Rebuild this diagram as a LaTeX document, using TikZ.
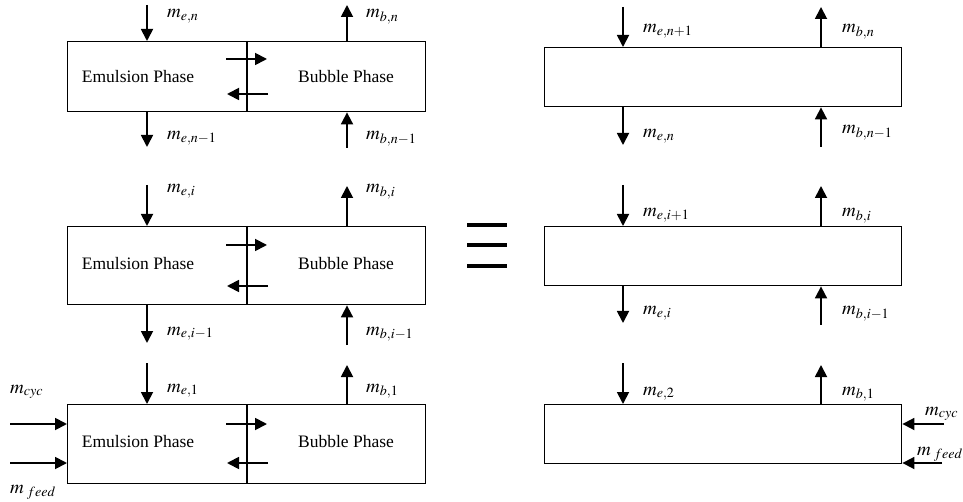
\documentclass[tikz,border=0pt]{standalone}
\usepackage{mathptmx}
\usepackage{fontspec}
\setmainfont{Liberation Serif}
\usetikzlibrary{arrows.meta,calc}
\begin{document}
\begin{tikzpicture}[x=1pt,y=-1pt,
  box/.style={draw,line width=1.4pt,minimum width=358pt,anchor=north west,inner sep=0pt},
  flow/.style={line width=1.8pt,-{Triangle[width=12pt,length=12pt]}},
  lab/.style={anchor=base west,inner sep=0pt,font=\fontsize{19}{22}\selectfont},
  txt/.style={inner sep=0pt,font=\fontsize{17.5}{20}\selectfont},
  bar/.style={line width=4.5pt}]
\useasboundingbox (0,0) rectangle (963,502);
% left column boxes
\node[box,minimum height=70pt] (L1) at (67,41) {};
\node[box,minimum height=78pt] (L2) at (67,226) {};
\node[box,minimum height=79pt] (L3) at (67,404) {};
\foreach \b in {L1,L2,L3}{
  \draw[line width=1.4pt] ($(\b.north west)+(180,0)$) -- ($(\b.south west)+(180,0)$);
}
% right column boxes
\node[box,minimum width=357pt,minimum height=59pt] (R1) at (544,47) {};
\node[box,minimum width=357pt,minimum height=59pt] (R2) at (544,226) {};
\node[box,minimum width=357pt,minimum height=59pt] (R3) at (544,404) {};
% phase texts
\node[txt] (e1) at (138,77) {Emulsion Phase};
\node[txt] (b1) at (346,77) {Bubble Phase};
\node[txt] (e2) at (138,264) {Emulsion Phase};
\node[txt] (b2) at (346,264) {Bubble Phase};
\node[txt] (e3) at (138,442) {Emulsion Phase};
\node[txt] (b3) at (346,442) {Bubble Phase};
% ---- top-left arrows
\coordinate (t1) at (147,5);   \draw[flow] (t1) -- (t1 |- L1.north);
\coordinate (t2) at (147,147); \draw[flow] (t2 |- L1.south) -- (t2);
\coordinate (t3) at (347,5);   \draw[flow] (t3 |- L1.north) -- (t3);
\coordinate (t4) at (347,148); \draw[flow] (t4) -- (t4 |- L1.south);
\coordinate (x1a) at (226,59); \coordinate (x1b) at (267,59); \draw[flow] (x1a) -- (x1b);
\coordinate (x1c) at (268,94); \coordinate (x1d) at (227,94); \draw[flow] (x1c) -- (x1d);
% ---- middle-left arrows
\coordinate (m1) at (147,185); \draw[flow] (m1) -- (m1 |- L2.north);
\coordinate (m2) at (147,343); \draw[flow] (m2 |- L2.south) -- (m2);
\coordinate (m3) at (347,186); \draw[flow] (m3 |- L2.north) -- (m3);
\coordinate (m4) at (347,345); \draw[flow] (m4) -- (m4 |- L2.south);
\coordinate (x2a) at (226,245); \coordinate (x2b) at (267,245); \draw[flow] (x2a) -- (x2b);
\coordinate (x2c) at (268,286); \coordinate (x2d) at (227,286); \draw[flow] (x2c) -- (x2d);
% ---- bottom-left arrows
\coordinate (u1) at (147,363); \draw[flow] (u1) -- (u1 |- L3.north);
\coordinate (u3) at (347,365); \draw[flow] (u3 |- L3.north) -- (u3);
\coordinate (x3a) at (226,424); \coordinate (x3b) at (267,424); \draw[flow] (x3a) -- (x3b);
\coordinate (x3c) at (268,463); \coordinate (x3d) at (227,463); \draw[flow] (x3c) -- (x3d);
\coordinate (c1) at (10,424); \draw[flow] (c1) -- (c1 -| L3.west);
\coordinate (f1) at (10,463); \draw[flow] (f1) -- (f1 -| L3.west);
% ---- top-right arrows
\coordinate (r1) at (623,7);   \draw[flow] (r1) -- (r1 |- R1.north);
\coordinate (r2) at (623,145); \draw[flow] (r2 |- R1.south) -- (r2);
\coordinate (r3) at (821,7);   \draw[flow] (r3 |- R1.north) -- (r3);
\coordinate (r4) at (821,147); \draw[flow] (r4) -- (r4 |- R1.south);
% ---- middle-right arrows
\coordinate (s1) at (623,185); \draw[flow] (s1) -- (s1 |- R2.north);
\coordinate (s2) at (623,323); \draw[flow] (s2 |- R2.south) -- (s2);
\coordinate (s3) at (821,186); \draw[flow] (s3 |- R2.north) -- (s3);
\coordinate (s4) at (821,325); \draw[flow] (s4) -- (s4 |- R2.south);
% ---- bottom-right arrows
\coordinate (v1) at (623,363); \draw[flow] (v1) -- (v1 |- R3.north);
\coordinate (v3) at (821,365); \draw[flow] (v3 |- R3.north) -- (v3);
\coordinate (c2) at (944,424); \draw[flow] (c2) -- (c2 -| R3.east);
\coordinate (f2) at (942,463); \draw[flow] (f2) -- (f2 -| R3.east);
% ---- equivalence sign
\coordinate (q1) at (467,225); \coordinate (q2) at (507,225);
\coordinate (q3) at (467,245); \coordinate (q4) at (507,245);
\coordinate (q5) at (467,266); \coordinate (q6) at (507,266);
\draw[bar] (q1) -- (q2); \draw[bar] (q3) -- (q4); \draw[bar] (q5) -- (q6);
% ---- labels left
\node[lab] (l1) at (167,18) {$m_{e,n}$};
\node[lab] (l2) at (366,18) {$m_{b,n}$};
\node[lab] (l3) at (167,140) {$m_{e,n-1}$};
\node[lab] (l4) at (366,140) {$m_{b,n-1}$};
\node[lab] (l5) at (167,193) {$m_{e,i}$};
\node[lab] (l6) at (366,193) {$m_{b,i}$};
\node[lab] (l7) at (167,335) {$m_{e,i-1}$};
\node[lab] (l8) at (366,335) {$m_{b,i-1}$};
\node[lab] (l9) at (167,392) {$m_{e,1}$};
\node[lab] (l10) at (366,392) {$m_{b,1}$};
\node[lab] (l11) at (10,393) {$m_{cyc}$};
\node[lab] (l12) at (10,493) {$m_{\;feed}$};
% ---- labels right
\node[lab] (k1) at (643,33) {$m_{e,n+1}$};
\node[lab] (k2) at (842,33) {$m_{b,n}$};
\node[lab] (k3) at (643,138) {$m_{e,n}$};
\node[lab] (k4) at (842,134) {$m_{b,n-1}$};
\node[lab] (k5) at (643,217) {$m_{e,i+1}$};
\node[lab] (k6) at (842,217) {$m_{b,i}$};
\node[lab] (k7) at (643,315) {$m_{e,i}$};
\node[lab] (k8) at (842,315) {$m_{b,i-1}$};
\node[lab] (k9) at (643,395) {$m_{e,2}$};
\node[lab] (k10) at (842,395) {$m_{b,1}$};
\node[lab] (k11) at (925,415) {$m_{cyc}$};
\node[lab] (k12) at (917,455) {$m_{\;feed}$};
\end{tikzpicture}
\end{document}
